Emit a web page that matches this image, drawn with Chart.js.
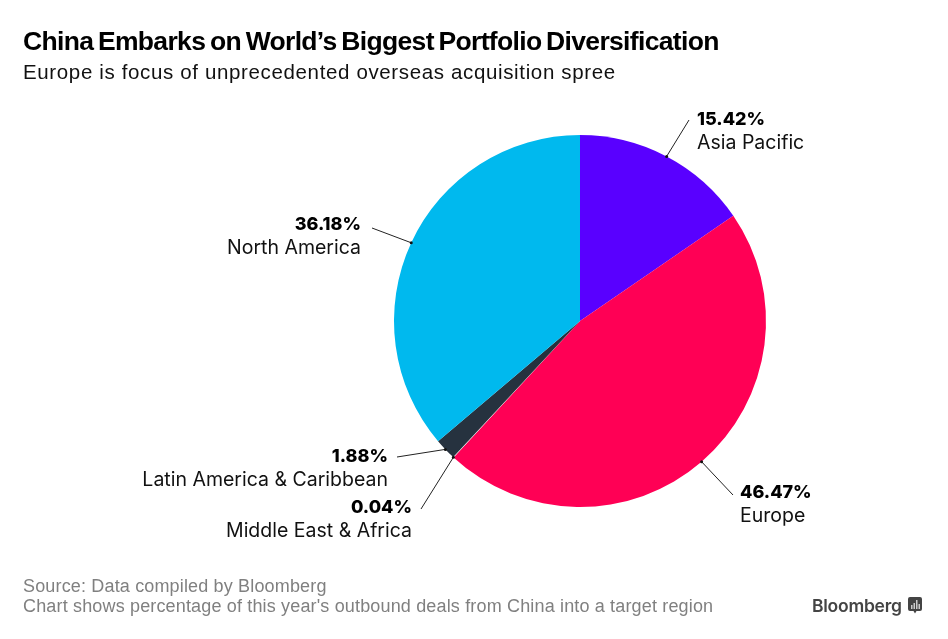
<!DOCTYPE html>
<html lang="en">

<head>
  <meta charset="UTF-8">
  <title>China Embarks on World's Biggest Portfolio Diversification</title>
  <style>
    html, body { margin: 0; padding: 0; background: #fff; }
    body { width: 948px; height: 639px; position: relative; overflow: hidden; font-family: Inter, sans-serif; }
    canvas { position: absolute; left: 0; top: 0; }
    .title { position: absolute; left: 23px; top: 26px; font: bold 26.5px "Liberation Sans", sans-serif; letter-spacing: -0.67px; word-spacing: -2px; color: #000; white-space: nowrap; }
    .subtitle { position: absolute; left: 23px; top: 60px; font: 20.5px "Liberation Sans", sans-serif; letter-spacing: 0.64px; color: #111; white-space: nowrap; }
    .source { position: absolute; left: 23px; top: 577px; font: 18px/19.5px "Liberation Sans", sans-serif; letter-spacing: 0.16px; color: #808080; white-space: nowrap; }
    .brand { position: absolute; left: 812px; top: 595px; font: 600 17.5px Inter, sans-serif; letter-spacing: -0.25px; color: #444; }
    .logo { position: absolute; left: 908px; top: 597px; }
  </style>
  <script src="https://cdn.jsdelivr.net/npm/chart.js"></script>
</head>

<body>
  <canvas id="pieChart" width="948" height="639"></canvas>
  <div class="title">China Embarks on World’s Biggest Portfolio Diversification</div>
  <div class="subtitle">Europe is focus of unprecedented overseas acquisition spree</div>
  <div class="source">Source: Data compiled by Bloomberg<br>Chart shows percentage of this year's outbound deals from China into a target region</div>
  <div class="brand">Bloomberg</div>
  <svg class="logo" width="14" height="17" viewBox="0 0 14 17">
    <path d="M2 0h10a2 2 0 0 1 2 2v10a2 2 0 0 1-2 2H8.500L7 16.500 5.500 14H2a2 2 0 0 1-2-2V2a2 2 0 0 1 2-2z" fill="#444" />
    <path d="M3 8h1.500v4H3zM5.500 6H7v6H5.500zM8 3h1.500v9H8zM10.500 7H12v5h-1.500z" fill="#ccc" />
  </svg>

  <script>
    const regions = ['Asia Pacific', 'Europe', 'Middle East & Africa', 'Latin America & Caribbean', 'North America'];
    const shares = [15.42, 46.47, 0.04, 1.88, 36.18];
    const sliceColors = ['#5900ff', '#ff0055', '#e8e8e8', '#26323f', '#00b9ee'];

    // where each leader line stops and how its text sits next to it
    const leaderEnds = [[689, 120], [733, 495], [421, 509], [397, 457], [372, 228]];
    const textSpots = [[697, 120, 'left'], [740, 493, 'left'], [412, 508, 'right'], [388, 457, 'right'], [361, 225, 'right']];

    const labelsPlugin = {
      id: 'sliceLabels',
      afterDatasetsDraw(chart) {
        const ctx = chart.ctx;
        const arcs = chart.getDatasetMeta(0).data;
        ctx.save();
        arcs.forEach((arc, i) => {
          const mid = (arc.startAngle + arc.endAngle) / 2;
          const edgeX = arc.x + Math.cos(mid) * arc.outerRadius;
          const edgeY = arc.y + Math.sin(mid) * arc.outerRadius;
          ctx.beginPath();
          ctx.moveTo(edgeX, edgeY);
          ctx.lineTo(leaderEnds[i][0], leaderEnds[i][1]);
          ctx.strokeStyle = '#222';
          ctx.lineWidth = 1;
          ctx.stroke();
          ctx.beginPath();
          ctx.arc(edgeX, edgeY, 1.5, 0, Math.PI * 2);
          ctx.fillStyle = '#111';
          ctx.fill();

          const [x, y, align] = textSpots[i];
          ctx.textAlign = align;
          ctx.textBaseline = 'middle';
          ctx.fillStyle = '#000';
          ctx.font = '800 18px Inter, sans-serif';
          ctx.fillText(shares[i].toFixed(2) + '%', x, y);
          ctx.fillStyle = '#111';
          ctx.font = '19.5px Inter, sans-serif';
          ctx.fillText(regions[i], x, y + 23.5);
        });
        ctx.restore();
      }
    };

    new Chart(document.getElementById('pieChart'), {
      type: 'pie',
      data: {
        labels: regions,
        datasets: [{
          data: shares,
          backgroundColor: sliceColors,
          borderWidth: 0
        }]
      },
      options: {
        responsive: false,
        animation: false,
        layout: { padding: { left: 394, right: 182, top: 135, bottom: 132 } },
        plugins: { legend: { display: false }, tooltip: { enabled: false } }
      },
      plugins: [labelsPlugin]
    });
  </script>
</body>

</html>
